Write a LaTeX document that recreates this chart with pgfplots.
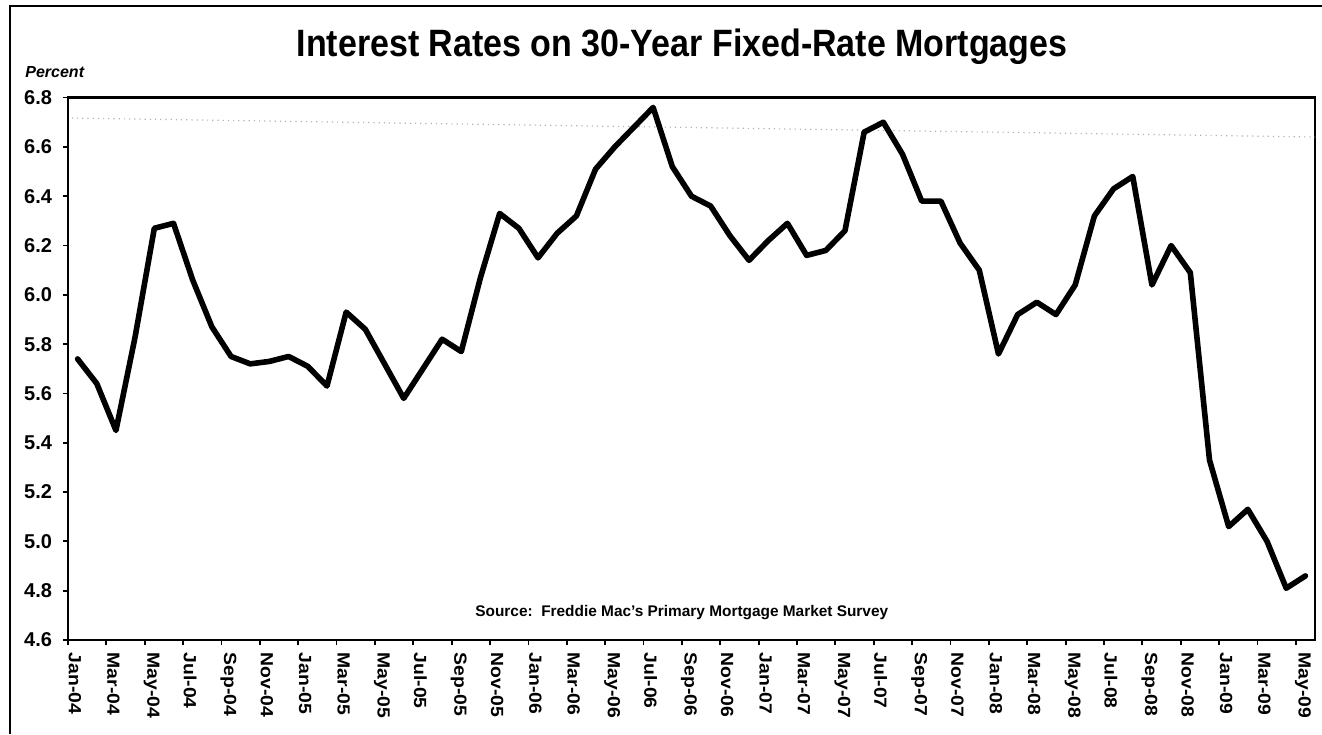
\documentclass[border=0pt]{standalone}
\usepackage{fontspec}
\setmainfont{Liberation Sans}
\usepackage{graphicx}
\usepackage{pgfplots}
\pgfplotsset{compat=1.18}
\begin{document}
\begin{tikzpicture}
\path[use as bounding box] (-34pt,-47pt) rectangle (627pt,320pt);
\draw[line width=1pt] (-29pt,-47pt) -- (-29pt,317pt) -- (627pt,317pt);
\begin{axis}[
  at={(0pt,0pt)}, anchor=south west,
  scale only axis, width=623.5pt, height=271.2pt,
  xmin=0, xmax=65, ymin=4.6, ymax=6.8,
  axis line style={line width=1.2pt},
  tick style={black, line width=0.9pt},
  major tick length=2.5pt,
  tick align=outside,
  xtick pos=bottom, ytick pos=left,
  xtick={0,2,...,64},
  xticklabels={Jan-04,Mar-04,May-04,Jul-04,Sep-04,Nov-04,
               Jan-05,Mar-05,May-05,Jul-05,Sep-05,Nov-05,
               Jan-06,Mar-06,May-06,Jul-06,Sep-06,Nov-06,
               Jan-07,Mar-07,May-07,Jul-07,Sep-07,Nov-07,
               Jan-08,Mar-08,May-08,Jul-08,Sep-08,Nov-08,
               Jan-09,Mar-09,May-09},
  ytick={4.6,4.8,5.0,5.2,5.4,5.6,5.8,6.0,6.2,6.4,6.6,6.8},
  yticklabels={4.6,4.8,5.0,5.2,5.4,5.6,5.8,6.0,6.2,6.4,6.6,6.8},
  yticklabel style={xshift=-2pt, font=\bfseries\fontsize{10}{12}\selectfont},
  xticklabel style={xshift=3.5pt, rotate=-90, xscale=1.1, anchor=west, font=\bfseries\fontsize{8.8}{10}\selectfont},
  clip=false,
]
\addplot[gray!60, dotted, line width=0.6pt] coordinates {(0.2,6.717) (65,6.64)};
\addplot[black, line width=2.8pt, line join=round, line cap=round] coordinates {
(0.5,5.74) (1.5,5.64) (2.5,5.45) (3.5,5.83) (4.5,6.27) (5.5,6.29)
(6.5,6.06) (7.5,5.87) (8.5,5.75) (9.5,5.72) (10.5,5.73) (11.5,5.75)
(12.5,5.71) (13.5,5.63) (14.5,5.93) (15.5,5.86) (16.5,5.72) (17.5,5.58)
(18.5,5.70) (19.5,5.82) (20.5,5.77) (21.5,6.07) (22.5,6.33) (23.5,6.27)
(24.5,6.15) (25.5,6.25) (26.5,6.32) (27.5,6.51) (28.5,6.60) (29.5,6.68)
(30.5,6.76) (31.5,6.52) (32.5,6.40) (33.5,6.36) (34.5,6.24) (35.5,6.14)
(36.5,6.22) (37.5,6.29) (38.5,6.16) (39.5,6.18) (40.5,6.26) (41.5,6.66)
(42.5,6.70) (43.5,6.57) (44.5,6.38) (45.5,6.38) (46.5,6.21) (47.5,6.10)
(48.5,5.76) (49.5,5.92) (50.5,5.97) (51.5,5.92) (52.5,6.04) (53.5,6.32)
(54.5,6.43) (55.5,6.48) (56.5,6.04) (57.5,6.20) (58.5,6.09) (59.5,5.33)
(60.5,5.06) (61.5,5.13) (62.5,5.00) (63.5,4.81) (64.5,4.86)
};
\end{axis}
\node[anchor=base, inner sep=0pt, font=\bfseries\fontsize{17}{20}\selectfont] at (307pt,291.7pt) {\scalebox{1}[1.12]{Interest Rates on 30-Year Fixed-Rate Mortgages}};
\node[anchor=base west, inner sep=0pt, font=\bfseries\itshape\fontsize{8}{10}\selectfont] at (-21.5pt,281pt) {Percent};
\node[anchor=base west, inner sep=0pt, font=\bfseries\fontsize{7.7}{9}\selectfont] at (203.5pt,11.7pt) {Source:\ \ Freddie Mac's Primary Mortgage Market Survey};
\end{tikzpicture}
\end{document}
